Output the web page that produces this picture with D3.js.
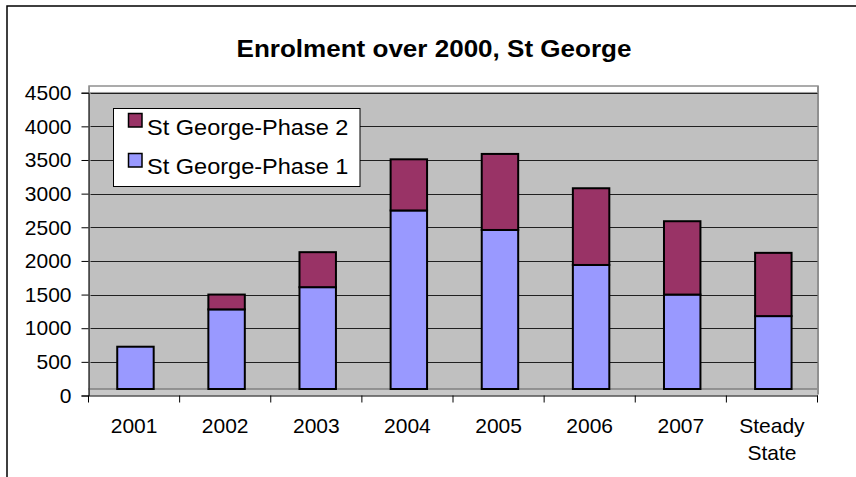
<!DOCTYPE html>
<html><head><meta charset="utf-8">
<script src="https://cdn.jsdelivr.net/npm/d3@7"></script>
<style>body{margin:0;background:#fff}svg{display:block}text{font-family:"Liberation Sans",Arial,sans-serif}</style>
</head><body><svg id="c" width="856" height="477"></svg>
<script>
const title = "Enrolment over 2000, St George";
const categories = ["2001","2002","2003","2004","2005","2006","2007","Steady State"];
const phase1 = [725, 1280, 1610, 2750, 2460, 1940, 1500, 1180];
const phase2 = [0, 220, 520, 760, 1130, 1140, 1090, 940];
const seriesNames = ["St George-Phase 1","St George-Phase 2"];
const yTicks = [0,500,1000,1500,2000,2500,3000,3500,4000,4500];

const colors = {"St George-Phase 1":"#9999FF","St George-Phase 2":"#993366"};
const svg = d3.select("#c");
const left = 88.5, right = 817.5, wallTop = 86;
const floorDepth = 6.5, depthShift = 1.4;

const y = d3.scaleLinear().domain([0,4500]).range([395.5, 92.7]);
const x = d3.scaleBand().domain(categories).range([left, right]).padding(0);

// outer frame
svg.append("rect").attr("x",7).attr("y",6).attr("width",900).attr("height",500)
  .attr("fill","#fff").attr("stroke","#000").attr("stroke-width",1.5);

// title
svg.append("text").attr("transform","translate(434,57) scale(1.085,1)").attr("text-anchor","middle")
  .attr("font-size",24).attr("font-weight","bold").text(title);

// wall top band
svg.append("rect").attr("x",left+0.5).attr("y",wallTop).attr("width",right-left).attr("height",y(4500)-wallTop)
  .attr("fill","#fff").attr("stroke","#909090").attr("stroke-width",1.5);
// wall
svg.append("rect").attr("x",left+0.5).attr("y",y(4500)).attr("width",right-left).attr("height",y(0)-floorDepth-y(4500))
  .attr("fill","#C0C0C0");
// floor
svg.append("rect").attr("x",left+0.5).attr("y",y(0)-floorDepth).attr("width",right-left).attr("height",floorDepth)
  .attr("fill","#C8C8C8");
svg.append("line").attr("x1",left).attr("x2",right).attr("y1",y(0)-floorDepth).attr("y2",y(0)-floorDepth)
  .attr("stroke","#808080").attr("stroke-width",1.5);
// wall side edges
svg.append("line").attr("x1",right+0.5).attr("x2",right+0.5).attr("y1",wallTop).attr("y2",y(0)-1)
  .attr("stroke","#909090").attr("stroke-width",2);
svg.append("line").attr("x1",left+0.8).attr("x2",left+0.8).attr("y1",wallTop).attr("y2",y(0))
  .attr("stroke","#909090").attr("stroke-width",1.2);

// gridlines
svg.append("g").selectAll("line").data(yTicks.filter(d=>d>0)).join("line")
  .attr("x1",left+2).attr("x2",right).attr("y1",d=>Math.round(y(d))+0.5).attr("y2",d=>Math.round(y(d))+0.5)
  .attr("stroke","#202020").attr("stroke-width",1);

// y axis
const ya = svg.append("g").attr("transform",`translate(${left},0)`)
  .call(d3.axisLeft(y).tickValues(yTicks).tickSize(7).tickPadding(10).tickFormat(d3.format("d")));
ya.select(".domain").attr("stroke","#000");
ya.selectAll("line").attr("stroke","#000");
ya.selectAll("text").attr("font-size",21).attr("fill","#000").attr("font-family",'"Liberation Sans",Arial,sans-serif');

// x axis
const xa = svg.append("g").attr("transform",`translate(0,${y(0)})`)
  .call(d3.axisBottom(x).tickSize(0).tickFormat(""));
xa.select(".domain").attr("stroke","#000");
svg.append("g").selectAll("line").data(categories.concat(["__end"])).join("line")
  .attr("x1",(d,i)=>left + i*x.bandwidth()).attr("x2",(d,i)=>left + i*x.bandwidth())
  .attr("y1",y(0)).attr("y2",y(0)+7).attr("stroke","#000");
const xl = svg.append("g").selectAll("text").data(categories).join("text")
  .attr("x",d=>x(d)+x.bandwidth()/2).attr("y",433).attr("text-anchor","middle")
  .attr("font-size",21).attr("fill","#000");
xl.each(function(d){
  const words = d.split(" ");
  const t = d3.select(this);
  words.forEach((w,i)=>t.append("tspan").attr("x",x(d)+x.bandwidth()/2).attr("dy",i?26.7:0).text(w));
});

// bars
const data = categories.map((c,i)=>({cat:c,"St George-Phase 1":phase1[i],"St George-Phase 2":phase2[i]}));
const stack = d3.stack().keys(seriesNames)(data);
const barW = x.bandwidth()*0.4;
svg.append("g").selectAll("g").data(stack).join("g").attr("fill",s=>colors[s.key])
  .selectAll("rect").data(s=>s.filter(d=>d[1]-d[0]>0)).join("rect")
  .attr("x",d=>x(d.data.cat)+(x.bandwidth()-barW)/2+depthShift)
  .attr("width",barW)
  .attr("y",d=>y(d[1]))
  .attr("height",d=>(d[0]===0? y(0)-floorDepth : y(d[0])) - y(d[1]))
  .attr("stroke","#000").attr("stroke-width",2);

// legend
const lg = svg.append("g");
lg.append("rect").attr("x",113.5).attr("y",108.5).attr("width",246.5).attr("height",78)
  .attr("fill","#fff").attr("stroke","#000").attr("stroke-width",1);
const legendItems = ["St George-Phase 2","St George-Phase 1"];
legendItems.forEach((k,i)=>{
  const yy = 113.5 + i*40;
  lg.append("rect").attr("x",128.5).attr("y",yy).attr("width",13.5).attr("height",13.5)
    .attr("fill",colors[k]).attr("stroke","#000").attr("stroke-width",1.5);
  lg.append("text").attr("transform",`translate(147,${135+i*39}) scale(1.07,1)`)
    .attr("font-size",22).attr("fill","#000").text(k);
});
</script></body></html>
